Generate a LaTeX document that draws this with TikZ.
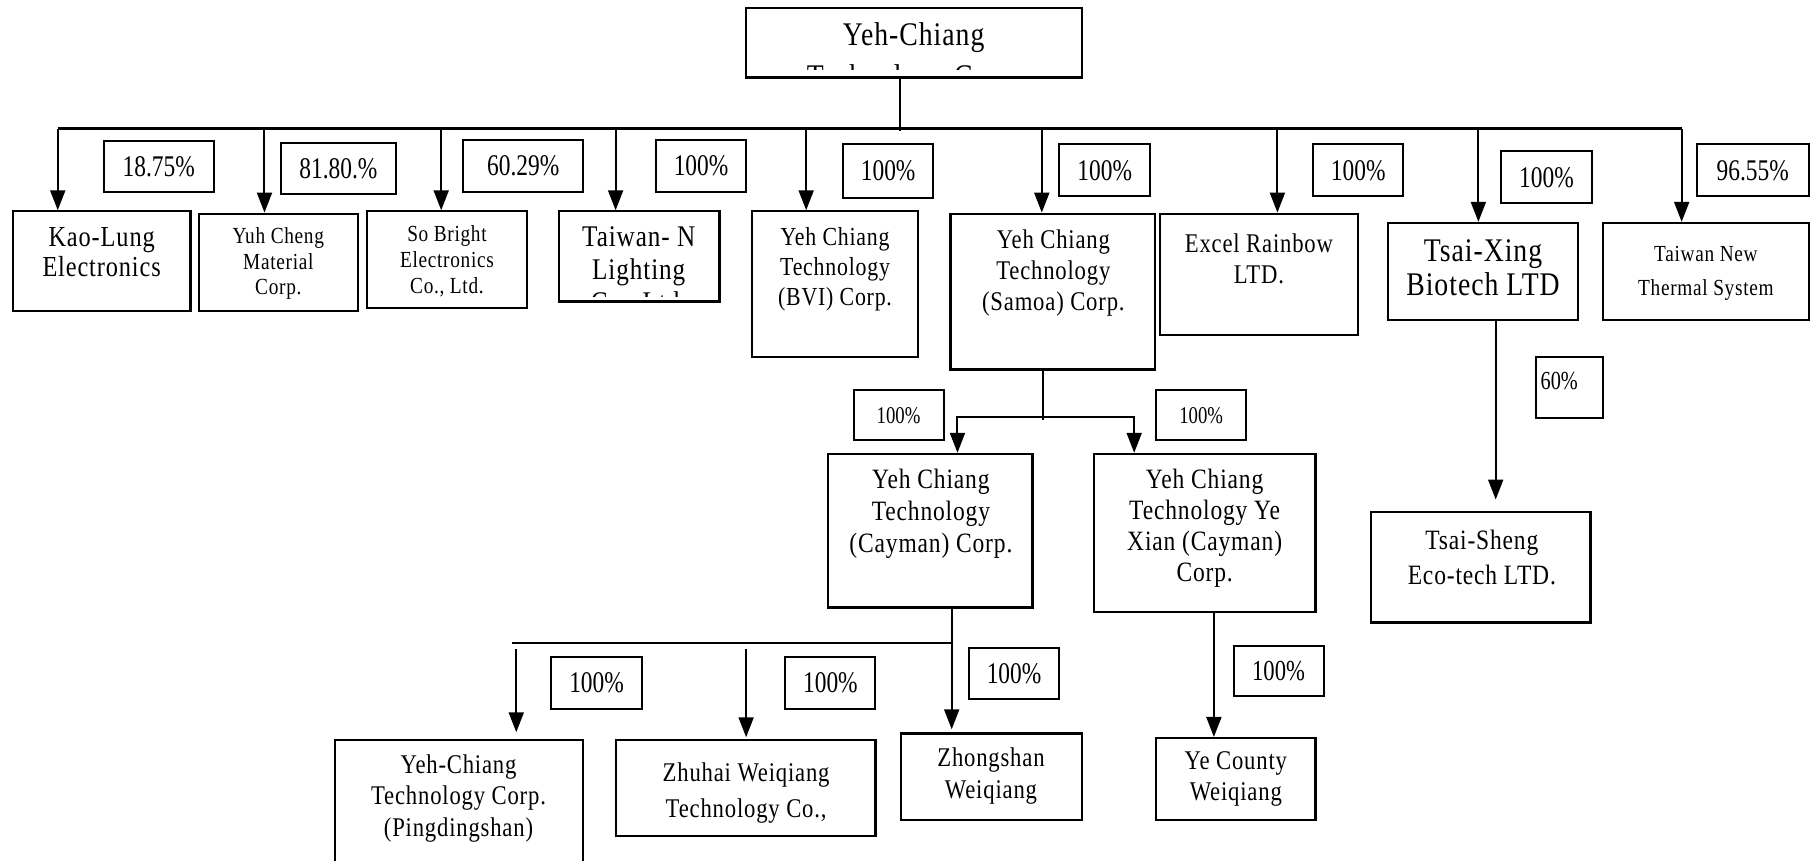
\documentclass[tikz,border=0pt]{standalone}
\usepackage{fontspec}
\setmainfont{Liberation Serif}
\newfontfamily\pctf[FakeStretch=0.78]{Liberation Serif}
\newfontfamily\boxf[FakeStretch=0.84,LetterSpace=3]{Liberation Serif}
\usetikzlibrary{arrows.meta,fit}
\newcommand\fsz[2]{\fontsize{#1}{#2}\selectfont}
% percentage box: name, x1, y1, x2, y2, text, font size
\newcommand\pctbox[7]{%
  \node[pbox,fit={(#2,#3)(#4,#5)}] (#1) {};
  \node[ptxt,font={\pctf\fsz{#7}{#7}}] (#1T) at (#1.center) {#6};}
\begin{document}
\begin{tikzpicture}[x=1.155pt,y=-1.155pt,
  box/.style={draw,line width=2.2pt,inner sep=0pt},
  pbox/.style={draw,line width=2pt,inner sep=0pt},
  ptxt/.style={inner sep=0pt},
  txt/.style={anchor=north,align=center,inner sep=0pt},
  trunk/.style={line width=2.8pt},
  conn/.style={line width=2pt},
  arr/.style={line width=2pt,-{Triangle[length=20pt,width=15pt]}}]
\clip (0,0) rectangle (1568,745);
% ---------- top ----------
\node[box,line width=2.5pt,fit={(646,7)(937,67)}] (top) {};
\begin{scope}
  \clip (646,7) rectangle (937,60);
  \node[txt,font={\boxf\fsz{33}{42}}] (topT) at (791,19) {Yeh-Chiang\\Technology Corp.};
\end{scope}
\coordinate (tL) at (50,111);
\coordinate (tR) at (1456,111);
\coordinate (tj) at (779,113);
\draw[conn] (top.south -| tj) -- (tj);
\draw[trunk] (tL) -- (tR);
% ---------- level 1 boxes ----------
\node[box,fit={(11,183)(165,269)}] (kao) {};
\node[box,fit={(172,185)(310,269)}] (yuh) {};
\node[box,fit={(318,183)(456,267)}] (sob) {};
\node[box,fit={(484,183)(623,261)}] (twn) {};
\node[box,fit={(651,183)(795,309)}] (bvi) {};
\node[box,fit={(823,185)(1000,320)}] (sam) {};
\node[box,fit={(1004,185)(1176,290)}] (exc) {};
\node[box,fit={(1202,193)(1366,277)}] (tsx) {};
\node[box,fit={(1388,193)(1566,277)}] (tnt) {};
\node[txt,font={\boxf\fsz{29}{30}}] (kaoT) at (88,197) {Kao-Lung\\Electronics};
\node[txt,font={\boxf\fsz{23}{25.5}}] (yuhT) at (241,197) {Yuh Cheng\\Material\\Corp.};
\node[txt,font={\boxf\fsz{23}{26}}] (sobT) at (387,195) {So Bright\\Electronics\\Co., Ltd.};
\begin{scope}
  \clip (484,183) rectangle (623,256.5);
  \node[txt,font={\boxf\fsz{30}{33}}] (twnT) at (553,196) {Taiwan- N\\Lighting\\Co., Ltd.};
\end{scope}
\node[txt,font={\boxf\fsz{26}{30}}] (bviT) at (723,197) {Yeh Chiang\\Technology\\(BVI) Corp.};
\node[txt,font={\boxf\fsz{27}{31}}] (samT) at (912,199) {Yeh Chiang\\Technology\\(Samoa) Corp.};
\node[txt,font={\boxf\fsz{27}{31}}] (excT) at (1090,202) {Excel Rainbow\\LTD.};
\node[txt,font={\boxf\fsz{33}{34}}] (tsxT) at (1284,207) {Tsai-Xing\\Biotech LTD};
\node[txt,font={\boxf\fsz{23}{34}}] (tntT) at (1477,213) {Taiwan New\\Thermal System};
% ---------- level 1 arrows ----------
\foreach \n/\x/\t in {b1/50/kao,b2/229/yuh,b3/382/sob,b4/533/twn,b5/698/bvi,b6/902/sam,b7/1106/exc,b8/1280/tsx,b9/1456/tnt}{
  \coordinate (\n) at (\x,112);
  \draw[arr] (\n) -- (\n |- \t.north);
}
% ---------- level 1 percentages ----------
\pctbox{p1}{90}{122}{185}{166}{18.75\%}{30}
\pctbox{p2}{243}{124}{343}{168}{81.80.\%}{30}
\pctbox{p3}{401}{121}{505}{166}{60.29\%}{30}
\pctbox{p4}{568}{121}{646}{166}{100\%}{30}
\pctbox{p5}{730}{125}{808}{171}{100\%}{30}
\pctbox{p6}{917}{125}{996}{170}{100\%}{30}
\pctbox{p7}{1137}{125}{1215}{170}{100\%}{30}
\pctbox{p8}{1300}{131}{1378}{176}{100\%}{30}
\pctbox{p9}{1469}{125}{1566}{170}{96.55\%}{30}
% ---------- level 2 ----------
\node[box,fit={(717,393)(894,526)}] (cay) {};
\node[box,fit={(947,393)(1139,530)}] (yxc) {};
\node[box,fit={(1187,443)(1377,539)}] (tss) {};
\node[txt,font={\boxf\fsz{28}{32}}] (cayT) at (806,406) {Yeh Chiang\\Technology\\(Cayman) Corp.};
\node[txt,font={\boxf\fsz{28}{31}}] (yxcT) at (1043,406) {Yeh Chiang\\Technology Ye\\Xian (Cayman)\\Corp.};
\node[txt,font={\boxf\fsz{28}{35}}] (tssT) at (1283,459) {Tsai-Sheng\\Eco-tech LTD.};
\coordinate (sj) at (903,361);
\coordinate (sj2) at (903,364);
\coordinate (sL) at (829,361);
\coordinate (sR) at (982,361);
\draw[conn] (sam.south -| sj) -- (sj2);
\draw[arr] (sj) -| (sL |- cay.north);
\draw[arr] (sj) -| (sR |- yxc.north);
\pctbox{ps1}{739}{338}{817}{381}{100\%}{24}
\pctbox{ps2}{1001}{338}{1079}{381}{100\%}{24}
\coordinate (tx) at (1295,300);
\draw[arr,shorten >=11pt] (tsx.south -| tx) -- (tss.north -| tx);
\node[pbox,fit={(1330,309)(1388,362)}] (p60) {};
\node[ptxt,font={\pctf\fsz{26}{26}}] (p60T) at (1350,330) {60\%};
% ---------- level 3 ----------
\node[box,fit={(290,641)(505,770)}] (pds) {};
\node[box,fit={(533,641)(758,724)}] (zhu) {};
\node[box,fit={(780,635)(937,710)}] (zsh) {};
\node[box,fit={(1001,639)(1139,710)}] (yec) {};
\node[txt,font={\boxf\fsz{27}{31.5}}] (pdsT) at (397,653) {Yeh-Chiang\\Technology Corp.\\(Pingdingshan)};
\node[txt,font={\boxf\fsz{27}{36}}] (zhuT) at (646,660) {Zhuhai Weiqiang\\Technology Co.,};
\node[txt,font={\boxf\fsz{27}{32}}] (zshT) at (858,647) {Zhongshan\\Weiqiang};
\node[txt,font={\boxf\fsz{27}{31}}] (yecT) at (1070,651) {Ye County\\Weiqiang};
\coordinate (cj) at (824,557);
\coordinate (cL) at (443,557);
\coordinate (c1) at (447,562);
\coordinate (c2) at (646,562);
\draw[arr,shorten >=3pt] (cay.south -| cj) -- (cj |- zsh.north);
\draw[conn] (cj) -- (cL);
\draw[arr,shorten >=7pt] (c1) -- (c1 |- pds.north);
\draw[arr,shorten >=2pt] (c2) -- (c2 |- zhu.north);
\pctbox{pc1}{477}{569}{556}{614}{100\%}{30}
\pctbox{pc2}{680}{569}{758}{614}{100\%}{30}
\pctbox{pc3}{839}{561}{917}{605}{100\%}{30}
\coordinate (yx) at (1051,600);
\draw[arr] (yxc.south -| yx) -- (yec.north -| yx);
\pctbox{py}{1068}{559}{1146}{603}{100\%}{29}
\end{tikzpicture}
\end{document}
